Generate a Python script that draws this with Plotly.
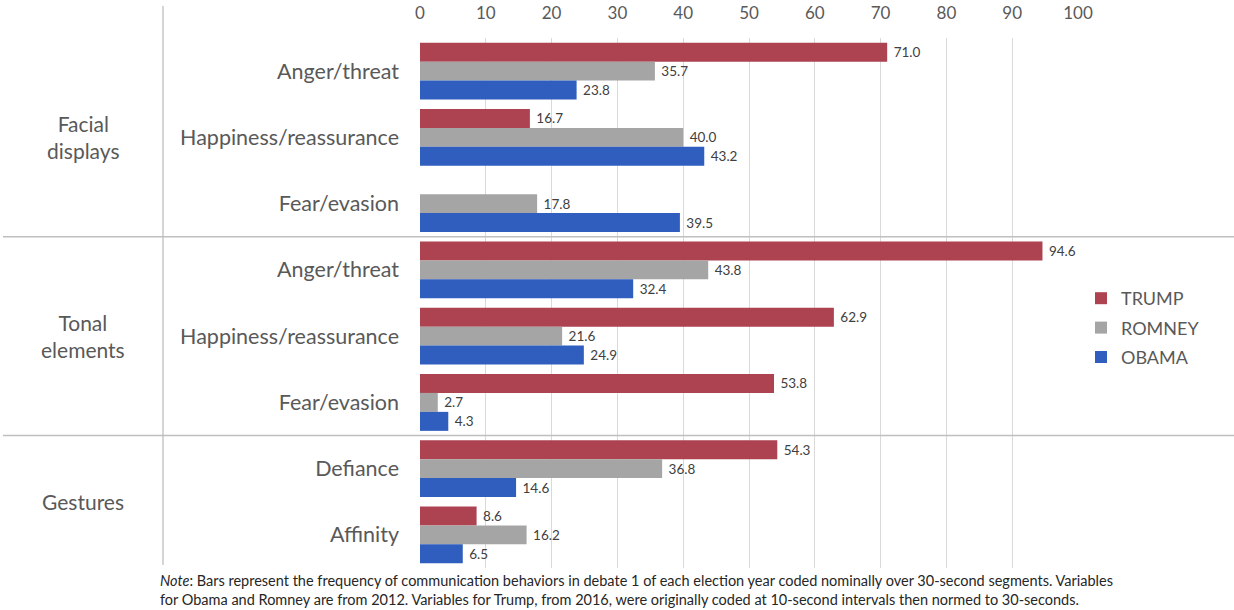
import plotly.graph_objects as go

# ---- data ----
groups = ["Facial<br>displays", "Tonal<br>elements", "Gestures"]
group_of_row = [0, 0, 0, 1, 1, 1, 2, 2]
subcategories = ["Anger/threat", "Happiness/reassurance", "Fear/evasion",
                 "Anger/threat", "Happiness/reassurance", "Fear/evasion",
                 "Defiance", "Affinity"]
trump = [71.0, 16.7, None, 94.6, 62.9, 53.8, 54.3, 8.6]
romney = [35.7, 40.0, 17.8, 43.8, 21.6, 2.7, 36.8, 16.2]
obama = [23.8, 43.2, 39.5, 32.4, 24.9, 4.3, 14.6, 6.5]
series_names = ["TRUMP", "ROMNEY", "OBAMA"]
x_ticks = list(range(0, 101, 10))

colors = ["#AD4250", "#A5A5A5", "#2F5EBE"]
FONT = "Lato"
GREY = "#595959"

rows = list(range(len(subcategories)))

fig = go.Figure()
for name, vals, col in zip(series_names, [trump, romney, obama], colors):
    fig.add_trace(go.Bar(
        y=rows, x=vals, name=name, orientation="h", legendgroup=name,
        marker=dict(color=col, line=dict(width=0)),
        text=[None if v is None else "\u00a0" + f"{v:.1f}" for v in vals],
        textposition="outside", cliponaxis=False, constraintext="none",
        textfont=dict(family=FONT, size=13.5, color="#404040"),
    ))

# plot-area geometry (pixels) for helper conversions
L, R, T, B = 420, 1078, 38, 568
W, H = R - L, B - T

def px_x(p):
    return (p - L) / W

def px_y(p):
    return (B - p) / H

shapes = []
# horizontal separators between groups
for i in range(1, len(rows)):
    if group_of_row[i] != group_of_row[i - 1]:
        shapes.append(dict(type="line", xref="paper", yref="y",
                           x0=px_x(3), x1=px_x(1234), y0=i - 0.5, y1=i - 0.5,
                           line=dict(color="#BFBFBF", width=1.3)))
# vertical separator between group labels and subcategory labels
shapes.append(dict(type="line", xref="paper", yref="paper",
                   x0=px_x(163), x1=px_x(163), y0=px_y(565), y1=px_y(6),
                   line=dict(color="#BFBFBF", width=1.3)))

annotations = []
for gi, g in enumerate(groups):
    idx = [i for i, gg in enumerate(group_of_row) if gg == gi]
    annotations.append(dict(xref="paper", yref="y", x=px_x(83), y=sum(idx) / len(idx),
                            text=g, showarrow=False, xanchor="center", yanchor="middle",
                            font=dict(family=FONT, size=21, color=GREY)))

annotations.append(dict(
    xref="paper", yref="paper", x=px_x(158), y=px_y(570), xanchor="left", yanchor="top",
    align="left", showarrow=False,
    text=("<i>Note</i>: Bars represent the frequency of communication behaviors in debate 1 of each election year coded nominally over 30-second segments. Variables<br>"
          "for Obama and Romney are from 2012. Variables for Trump, from 2016, were originally coded at 10-second intervals then normed to 30-seconds."),
    font=dict(family=FONT, size=14.5, color="#262626")))

fig.update_layout(
    width=1234, height=610,
    margin=dict(l=L, r=1234 - R, t=T, b=610 - B, pad=0, autoexpand=False),
    paper_bgcolor="white", plot_bgcolor="white",
    barmode="group", bargap=0.14, bargroupgap=0,
    font=dict(family=FONT, color=GREY),
    xaxis=dict(side="top", range=[0, 100], tickvals=x_ticks, showgrid=True,
               gridcolor="#D9D9D9", gridwidth=1.3, zeroline=False, showline=False,
               automargin=False,
               tickfont=dict(family=FONT, size=17, color=GREY), ticklabelstandoff=15),
    yaxis=dict(range=[len(rows) - 0.5, -0.5], tickvals=rows, ticktext=subcategories,
               showgrid=False, zeroline=False, showline=False, automargin=False,
               tickfont=dict(family=FONT, size=21.5, color=GREY), ticklabelstandoff=20),
    legend=dict(x=px_x(1081), y=px_y(328), xanchor="left", yanchor="middle",
                traceorder="grouped", tracegroupgap=3,
                font=dict(family=FONT, size=18, color=GREY)),
    shapes=shapes, annotations=annotations,
)

fig.write_html("out.html")
